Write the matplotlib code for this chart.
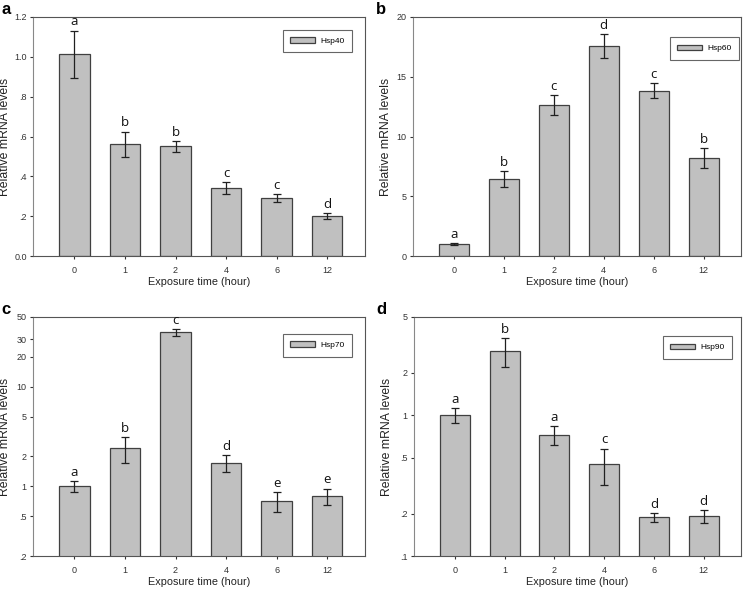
import matplotlib
matplotlib.use("Agg")
import matplotlib.pyplot as plt
import numpy as np

plt.rcParams['font.family'] = ['Liberation Sans', 'DejaVu Sans']

times = ["0", "1", "2", "4", "6", "12"]

hsp40 = [1.012, 0.56, 0.55, 0.343, 0.289, 0.199]
hsp40_err = [0.12, 0.065, 0.027, 0.03, 0.02, 0.015]
hsp40_sig = ["a", "b", "b", "c", "c", "d"]

hsp60 = [1.0, 6.44, 12.64, 17.57, 13.84, 8.2]
hsp60_err = [0.12, 0.64, 0.84, 0.99, 0.6, 0.86]
hsp60_sig = ["a", "b", "c", "d", "c", "b"]

hsp70 = [1.0, 2.42, 35.0, 1.71, 0.714, 0.80]
hsp70_err = [0.12, 0.70, 2.8, 0.33, 0.16, 0.15]
hsp70_sig = ["a", "b", "c", "d", "e", "e"]

hsp90 = [1.0, 2.87, 0.729, 0.451, 0.188, 0.192]
hsp90_err = [0.12, 0.65, 0.11, 0.13, 0.013, 0.02]
hsp90_sig = ["a", "b", "a", "c", "d", "d"]

ticks_a = [0.0, 0.2, 0.4, 0.6, 0.8, 1.0, 1.2]
ticklabels_a = ["0.0", ".2", ".4", ".6", ".8", "1.0", "1.2"]
ticks_b = [0, 5, 10, 15, 20]
ticklabels_b = ["0", "5", "10", "15", "20"]
ticks_c = [0.2, 0.5, 1, 2, 5, 10, 20, 30, 50]
ticklabels_c = [".2", ".5", "1", "2", "5", "10", "20", "30", "50"]
ticks_d = [0.1, 0.2, 0.5, 1, 2, 5]
ticklabels_d = [".1", ".2", ".5", "1", "2", "5"]

W, H = 747, 589
fig = plt.figure(figsize=(W / 100, H / 100), dpi=100)

def ax_rect(l, t, r, b):
    return [l / W, 1 - b / H, (r - l) / W, (b - t) / H]

panels = [
    dict(rect=ax_rect(33, 17, 365, 256), vals=hsp40, err=hsp40_err, sig=hsp40_sig,
         name="Hsp40", log=False, ylim=(0, 1.2), ticks=ticks_a, tl=ticklabels_a,
         leg=(0.753, 0.946), label="a", lab_xy=(1, 2), ylab_x=-0.066),
    dict(rect=ax_rect(413, 17, 741, 256), vals=hsp60, err=hsp60_err, sig=hsp60_sig,
         name="Hsp60", log=False, ylim=(0, 20), ticks=ticks_b, tl=ticklabels_b,
         leg=(0.783, 0.916), label="b", lab_xy=(376, 2), ylab_x=-0.064),
    dict(rect=ax_rect(33, 317, 365, 556), vals=hsp70, err=hsp70_err, sig=hsp70_sig,
         name="Hsp70", log=True, ylim=(0.2, 50), ticks=ticks_c, tl=ticklabels_c,
         leg=(0.753, 0.929), label="c", lab_xy=(1, 302), ylab_x=-0.066),
    dict(rect=ax_rect(414, 317, 741, 556), vals=hsp90, err=hsp90_err, sig=hsp90_sig,
         name="Hsp90", log=True, ylim=(0.1, 5), ticks=ticks_d, tl=ticklabels_d,
         leg=(0.76, 0.92), label="d", lab_xy=(376, 302), ylab_x=-0.064),
]

bar_color = "#c0c0c0"
edge_color = "#404040"

for p in panels:
    ax = fig.add_axes(p["rect"])
    x = np.arange(len(times))
    ax.bar(x, p["vals"], width=0.6, color=bar_color, edgecolor=edge_color,
           linewidth=0.9, label=p["name"], zorder=2)
    ax.errorbar(x, p["vals"], yerr=p["err"], fmt="none", ecolor="#202020",
                elinewidth=0.9, capsize=3, capthick=0.9, zorder=3)
    for xi, v, e, s in zip(x, p["vals"], p["err"], p["sig"]):
        ax.annotate(s, (xi, v + e), xytext=(0, 1.5), textcoords="offset points",
                    ha="center", va="bottom", fontsize=9.5,
                    family=["Open Sans", "DejaVu Sans"], color="#111111")
    if p["log"]:
        ax.set_yscale("log")
    ax.set_ylim(*p["ylim"])
    ax.set_xlim(-0.82, 5.75)
    ax.set_yticks(p["ticks"])
    ax.set_yticklabels(p["tl"])
    ax.yaxis.set_minor_locator(matplotlib.ticker.NullLocator())
    ax.set_xticks(x)
    ax.set_xticklabels(times)
    ax.tick_params(axis="both", direction="out", length=2.5, width=0.8,
                   labelsize=6.5, colors="#333333", pad=2)
    ax.tick_params(axis="x", pad=5)
    for sp in ax.spines.values():
        sp.set_color("#555555")
        sp.set_linewidth(0.8)
    ax.spines["left"].set_color("#888888")
    ax.set_xlabel("Exposure time (hour)", fontsize=7.8, labelpad=1, color="#222222")
    ax.set_ylabel("Relative mRNA levels", fontsize=8.8, color="#222222")
    ax.yaxis.set_label_coords(p["ylab_x"], 0.5)
    leg = ax.legend(loc="upper left", bbox_to_anchor=p["leg"], fontsize=6,
                    fancybox=False, edgecolor="#666666", framealpha=1,
                    handlelength=3.0, handleheight=0.6, borderpad=0.9,
                    handletextpad=0.6, borderaxespad=0)
    leg.get_frame().set_linewidth(0.8)
    fig.text(p["lab_xy"][0] / W, 1 - p["lab_xy"][1] / H, p["label"],
             fontsize=12, fontweight="bold", ha="left", va="top")

fig.savefig("out.png", dpi=100)
